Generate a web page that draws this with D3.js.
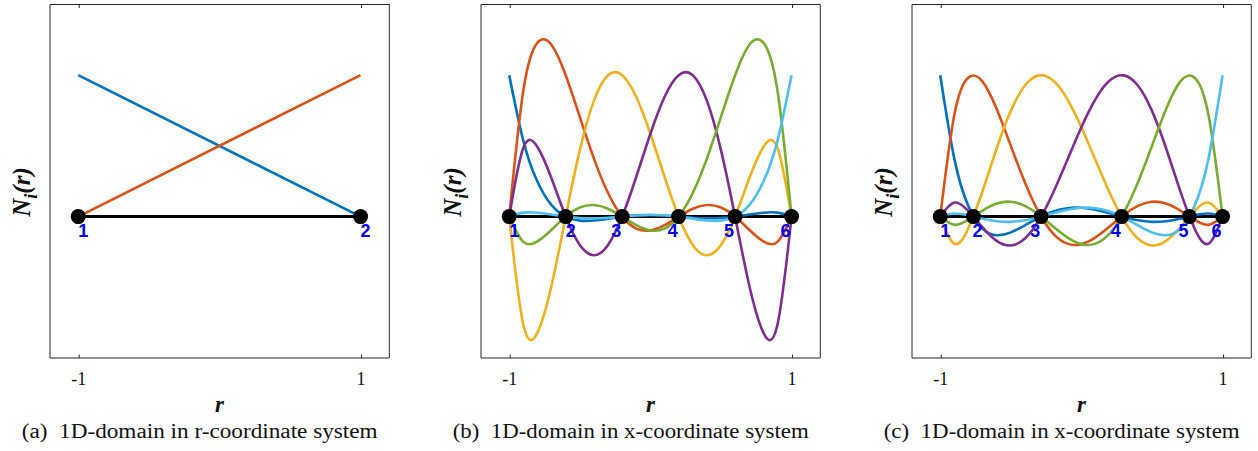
<!DOCTYPE html>
<html>
<head>
<meta charset="utf-8">
<script src="https://cdn.jsdelivr.net/npm/d3@7"></script>
<style>
  body { margin: 0; background: #fff; }
  svg { display: block; }
</style>
</head>
<body>
<svg id="fig" width="1258" height="451"></svg>
<script>
// Sampling grid in the natural coordinate r (step 0.1)
const rSamples = [-1, -0.9, -0.8, -0.7, -0.6, -0.5, -0.4, -0.3, -0.2, -0.1, 0,
                  0.1, 0.2, 0.3, 0.4, 0.5, 0.6, 0.7, 0.8, 0.9, 1];

// Axis ticks
const xTicks = [-1, 1];
const xTickLabels = ["-1", "1"];

// (a) linear element: two shape functions
const linearR = [-1, 1];
const linearN1 = [1, 0];
const linearN2 = [0, 1];
const nodesLinear = [-1, 1];

// (b) fifth-order element, equally spaced nodes
const nodesEqui = [-1, -0.6, -0.2, 0.2, 0.6, 1];
const equiN1 = [1, 0.5358, 0.2461, 0.0809, 0, -0.0282, -0.0273, -0.0143, 0, 0.0094, 0.0117,
                0.0077, 0, -0.0077, -0.0117, -0.0094, 0, 0.0143, 0.0273, 0.0282, 0];
const equiN2 = [0, 0.8929, 1.2305, 1.2140, 1, 0.7050, 0.4102, 0.1666, 0, -0.0846, -0.0977,
                -0.0604, 0, 0.0555, 0.0820, 0.0641, 0, -0.0934, -0.1758, -0.1786, 0];
const equiN3 = [0, -0.7654, -0.8203, -0.4856, 0, 0.4700, 0.8203, 0.9998, 1, 0.8459, 0.5859,
                0.2820, 0, -0.2000, -0.2734, -0.2014, 0, 0.2698, 0.4922, 0.4871, 0];
const equiN4 = [0, 0.4871, 0.4922, 0.2698, 0, -0.2014, -0.2734, -0.2000, 0, 0.2820, 0.5859,
                0.8459, 1, 0.9998, 0.8203, 0.4700, 0, -0.4856, -0.8203, -0.7654, 0];
const equiN5 = [0, -0.1786, -0.1758, -0.0934, 0, 0.0641, 0.0820, 0.0555, 0, -0.0604, -0.0977,
                -0.0846, 0, 0.1666, 0.4102, 0.7050, 1, 1.2140, 1.2305, 0.8929, 0];
const equiN6 = [0, 0.0282, 0.0273, 0.0143, 0, -0.0094, -0.0117, -0.0077, 0, 0.0077, 0.0117,
                0.0094, 0, -0.0143, -0.0273, -0.0282, 0, 0.0809, 0.2461, 0.5358, 1];

// (c) fifth-order element, Gauss-Lobatto-Legendre nodes
const nodesGLL = [-1, -0.7651, -0.2852, 0.2852, 0.7651, 1];
const gllN1 = [1, 0.4083, 0.0722, -0.0869, -0.1318, -0.1113, -0.0615, -0.0073, 0.0355, 0.0593, 0.0625,
               0.0485, 0.0237, -0.0039, -0.0263, -0.0371, -0.0330, -0.0153, 0.0080, 0.0215, 0];
const gllN2 = [0, 0.7209, 0.9843, 0.9549, 0.7613, 0.5004, 0.2407, 0.0262, -0.1198, -0.1911, -0.1946,
               -0.1469, -0.0702, 0.0115, 0.0754, 0.1049, 0.0921, 0.0424, -0.0220, -0.0584, 0];
const gllN3 = [0, -0.1916, -0.0809, 0.1813, 0.4833, 0.7477, 0.9269, 0.9988, 0.9618, 0.8308, 0.6321,
               0.3995, 0.1689, -0.0252, -0.1553, -0.2045, -0.1719, -0.0763, 0.0384, 0.0994, 0];
const gllN4 = [0, 0.0994, 0.0384, -0.0763, -0.1719, -0.2045, -0.1553, -0.0252, 0.1689, 0.3995, 0.6321,
               0.8308, 0.9618, 0.9988, 0.9269, 0.7477, 0.4833, 0.1813, -0.0809, -0.1916, 0];
const gllN5 = [0, -0.0584, -0.0220, 0.0424, 0.0921, 0.1049, 0.0754, 0.0115, -0.0702, -0.1469, -0.1946,
               -0.1911, -0.1198, 0.0262, 0.2407, 0.5004, 0.7613, 0.9549, 0.9843, 0.7209, 0];
const gllN6 = [0, 0.0215, 0.0080, -0.0153, -0.0330, -0.0371, -0.0263, -0.0039, 0.0237, 0.0485, 0.0625,
               0.0593, 0.0355, -0.0073, -0.0615, -0.1113, -0.1318, -0.0869, 0.0722, 0.4083, 1];

const seriesColors = ["#0072BD", "#D95319", "#EDB120", "#7E2F8E", "#77AC30", "#4DBEEE"];

const captions = [
  "(a)\u00A0 1D-domain in r-coordinate system",
  "(b)\u00A0 1D-domain in x-coordinate system",
  "(c)\u00A0 1D-domain in x-coordinate system"
];

// ---- panel setup ----
const panels = [
  { left: 50,  xs: linearR,  series: [linearN1, linearN2], nodes: nodesLinear, labelShift: [5, 5] },
  { left: 481, xs: rSamples, series: [equiN1, equiN2, equiN3, equiN4, equiN5, equiN6], nodes: nodesEqui,
    labelShift: [5, 5, -6, -6, -6, -6] },
  { left: 912, xs: rSamples, series: [gllN1, gllN2, gllN3, gllN4, gllN5, gllN6], nodes: nodesGLL,
    labelShift: [5, 4, -6, -6, -6, -6] }
];

const W = 338.8, TOP = 4.5, BOTTOM = 358;
const svg = d3.select("#fig");
const axisColor = "#262626";

panels.forEach((p, pi) => {
  const x = d3.scaleLinear().domain([-1.2, 1.2]).range([p.left, p.left + W]);
  const y = d3.scaleLinear().domain([-1, 1.5]).range([BOTTOM, TOP]);
  const g = svg.append("g");

  // frame
  const right = p.left + W;
  g.append("line").attr("x1", p.left).attr("x2", p.left).attr("y1", TOP).attr("y2", BOTTOM)
    .attr("stroke", axisColor).attr("stroke-width", 1);
  g.append("line").attr("x1", p.left).attr("x2", right).attr("y1", BOTTOM).attr("y2", BOTTOM)
    .attr("stroke", axisColor).attr("stroke-width", 1);
  g.append("line").attr("x1", p.left).attr("x2", right + 0.5).attr("y1", TOP).attr("y2", TOP)
    .attr("stroke", axisColor).attr("stroke-width", 1);
  g.append("line").attr("x1", right + 0.5).attr("x2", right + 0.5).attr("y1", TOP).attr("y2", BOTTOM)
    .attr("stroke", axisColor).attr("stroke-width", 1);

  // x ticks (bottom + mirrored top), pointing inward
  const bottomAxis = d3.axisBottom(x).tickValues(xTicks).tickSize(-3.5)
    .tickFormat((d, i) => xTickLabels[i]).tickPadding(14);
  const ax = g.append("g").attr("transform", `translate(0,${BOTTOM})`).call(bottomAxis);
  ax.select(".domain").remove();
  ax.selectAll(".tick line").attr("stroke", axisColor).attr("transform", "translate(0.5,0)");
  ax.selectAll(".tick text").attr("font-family", "'Liberation Serif', serif")
    .attr("font-size", 18).attr("fill", "#111").attr("dy", "0.71em");
  const topAxis = d3.axisTop(x).tickValues(xTicks).tickSize(-3.5).tickFormat("");
  const tx = g.append("g").attr("transform", `translate(0,${TOP})`).call(topAxis);
  tx.select(".domain").remove();
  tx.selectAll(".tick line").attr("stroke", axisColor).attr("transform", "translate(0.5,0)");

  // x label
  g.append("text").attr("x", (x(-1) + x(1)) / 2).attr("y", 412)
    .attr("text-anchor", "middle").attr("font-family", "'Liberation Serif', serif")
    .attr("font-weight", "bold").attr("font-style", "italic").attr("font-size", 23)
    .attr("fill", "#111").text("r");

  // y label  N_i(r)
  const yl = g.append("text")
    .attr("transform", `translate(${p.left - 20},192) rotate(-90)`)
    .attr("text-anchor", "middle").attr("font-family", "'Liberation Serif', serif")
    .attr("font-weight", "bold").attr("font-style", "italic").attr("font-size", 25)
    .attr("fill", "#111");
  yl.append("tspan").text("N");
  yl.append("tspan").attr("font-size", 18).attr("dy", 7).text("i");
  yl.append("tspan").attr("dy", -7).text("(r)");

  // element line along r
  g.append("line").attr("x1", x(-1)).attr("x2", x(1)).attr("y1", y(0)).attr("y2", y(0))
    .attr("stroke", "#000").attr("stroke-width", 3);

  // shape functions
  const line = d3.line().x((d, i) => x(p.xs[i])).y(d => y(d))
    .curve(p.xs.length > 2 ? d3.curveNatural : d3.curveLinear);
  p.series.forEach((s, si) => {
    g.append("path").attr("d", line(s)).attr("fill", "none")
      .attr("stroke", seriesColors[si]).attr("stroke-width", 2.6)
      .attr("stroke-linejoin", "round");
  });

  // nodes
  g.selectAll("circle.node").data(p.nodes).enter().append("circle")
    .attr("class", "node").attr("cx", d => x(d)).attr("cy", y(0)).attr("r", 7.5)
    .attr("fill", "#000");
  g.selectAll("text.nlab").data(p.nodes).enter().append("text")
    .attr("class", "nlab").attr("x", (d, i) => x(d) + p.labelShift[i]).attr("y", y(0) + 20)
    .attr("text-anchor", "middle").attr("font-family", "'Liberation Sans', Arial, sans-serif")
    .attr("font-weight", "bold").attr("font-size", 18).attr("fill", "#0000FF")
    .text((d, i) => i + 1);

  // caption
  g.append("text").attr("x", p.left - 28.3).attr("y", 438)
    .attr("font-family", "'Liberation Serif', serif").attr("font-size", 20)
    .attr("fill", "#111").attr("textLength", 356).attr("lengthAdjust", "spacingAndGlyphs")
    .text(captions[pi]);
});
</script>
</body>
</html>
